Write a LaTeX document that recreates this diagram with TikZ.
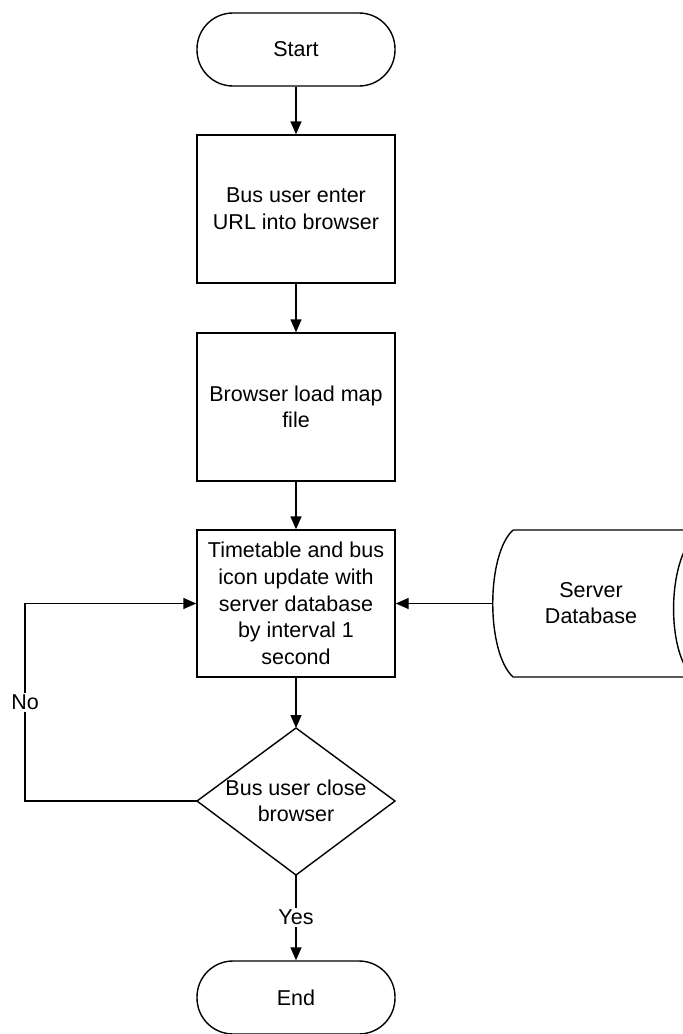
\documentclass[tikz,border=0pt]{standalone}
\usepackage{fontspec}
\setmainfont{Liberation Sans}
\usetikzlibrary{arrows.meta}
\begin{document}
\begin{tikzpicture}[x=1pt,y=-1pt,
  every node/.style={font=\fontsize{21.5}{26.6}\selectfont, align=center},
  stepbox/.style={draw, line width=1.4pt, minimum width=198pt, minimum height=148pt, inner sep=0pt},
  termbox/.style={draw, line width=1.4pt, minimum width=198pt, minimum height=73pt, rounded corners=36pt, inner sep=0pt},
  conn/.style={line width=1.4pt, -{Triangle[width=11pt,length=13pt]}},
  plain/.style={line width=1.4pt},
  lbl/.style={fill=white, inner sep=2pt}]
\useasboundingbox (0,0) rectangle (683,1034);
\clip (0,0) rectangle (683,1034);
\node[termbox] (start) at (296,49.5) {Start};
\node[stepbox] (b1) at (296,209) {Bus user enter\\URL into browser};
\node[stepbox] (b2) at (296,407) {Browser load map\\file};
\node[stepbox, minimum height=147pt] (b3) at (296,603.5) {Timetable and bus\\icon update with\\server database\\by interval 1\\second};
% decision
\coordinate (dtop) at (296,728);
\coordinate (dleft) at (197,801);
\coordinate (dright) at (395,801);
\coordinate (dbottom) at (296,875);
\draw[plain, line join=miter] (dtop) -- (dright) -- (dbottom) -- (dleft) -- cycle;
\node (dec) at (296,801) {Bus user close\\browser};
\node[termbox] (end) at (296,997.5) {End};
% server database (stored data)
\draw[plain] (513,530) -- (700,530) .. controls (666,555) and (666,652) .. (693,677) -- (513,677)
  .. controls (486,652) and (486,555) .. (513,530);
\coordinate (dbleft) at (493,603.5);
\node (db) at (591,603) {Server\\Database};
% connectors
\draw[conn] (start) -- (b1);
\draw[conn] (b1) -- (b2);
\draw[conn] (b2) -- (b3);
\draw[conn] (b3) -- (dtop);
\draw[conn] (dbleft) -- (b3.east);
\draw[conn] (dleft) -- (25,801) -- node[lbl] {No} (25,603.5) -- (b3.west);
\draw[conn] (dbottom) -- node[lbl] {Yes} (end);
\end{tikzpicture}
\end{document}
